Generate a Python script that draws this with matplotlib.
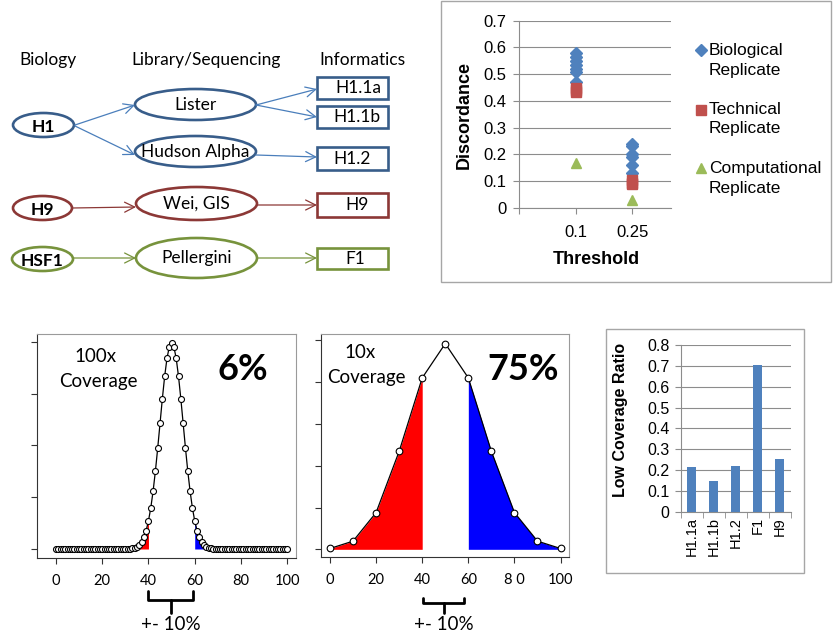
"""
Replicate discordance / coverage composite figure
"""
import matplotlib
matplotlib.use('Agg')
import matplotlib.pyplot as plt
from matplotlib.patches import Ellipse, Rectangle
import numpy as np

plt.rcParams['font.family'] = ['Lato', 'DejaVu Sans']

# Discordance vs threshold
thresholds = ['0.1', '0.25']
bio_01 = [0.58, 0.565, 0.55, 0.535, 0.52, 0.51, 0.47]
bio_025 = [0.24, 0.23, 0.20, 0.19, 0.16, 0.13]
tech_01 = [0.45, 0.44, 0.435]
tech_025 = [0.105, 0.095, 0.09]
comp_01 = [0.17]
comp_025 = [0.03]

# Low coverage ratio per sample
samples = ['H1.1a', 'H1.1b', 'H1.2', 'F1', 'H9']
low_cov = [0.214, 0.149, 0.221, 0.704, 0.254]

# Coverage distributions (100x: one point per percent, 10x: one per 10%)
cov100_y = [
    0.0, 0.0, 0.0, 0.0, 0.0, 0.0, 0.0, 0.0, 0.0, 0.0,
    0.0, 0.0, 0.0, 0.0, 0.0, 0.0, 0.0, 0.0, 0.0, 0.0,
    0.0, 0.0, 0.0, 0.0, 0.0, 0.0, 0.0, 0.0, 0.0, 0.0,
    0.00002, 0.00005, 0.00011, 0.00023, 0.00046, 0.00086, 0.00156, 0.00270, 0.00447, 0.00711,
    0.01084, 0.01587, 0.02229, 0.03007, 0.03895, 0.04847, 0.05796, 0.06659, 0.07353, 0.07803,
    0.07959,
    0.07803, 0.07353, 0.06659, 0.05796, 0.04847, 0.03895, 0.03007, 0.02229, 0.01587, 0.01084,
    0.00711, 0.00447, 0.00270, 0.00156, 0.00086, 0.00046, 0.00023, 0.00011, 0.00005, 0.00002,
    0.0, 0.0, 0.0, 0.0, 0.0, 0.0, 0.0, 0.0, 0.0, 0.0,
    0.0, 0.0, 0.0, 0.0, 0.0, 0.0, 0.0, 0.0, 0.0, 0.0,
    0.0, 0.0, 0.0, 0.0, 0.0, 0.0, 0.0, 0.0, 0.0, 0.0,
]
cov100_x = np.arange(len(cov100_y))
cov10_x = [0, 10, 20, 30, 40, 50, 60, 70, 80, 90, 100]
cov10_y = [0.00098, 0.00977, 0.04395, 0.11719, 0.20508, 0.24609,
           0.20508, 0.11719, 0.04395, 0.00977, 0.00098]

W, H = 833, 635
ARIAL = ['Liberation Sans', 'DejaVu Sans']
BLUE, RED, GREEN = '#4F81BD', '#C0504D', '#9BBB59'
GRID = '#8c8c8c'

fig = plt.figure(figsize=(W / 100, H / 100), dpi=100)


def px_axes(l, t, r, b):
    return fig.add_axes([l / W, 1 - b / H, (r - l) / W, (b - t) / H])


# background axes in pixel coordinates for diagram, frames and braces
bg = fig.add_axes([0, 0, 1, 1])
bg.set_xlim(0, W)
bg.set_ylim(H, 0)
bg.axis('off')

# ---- workflow diagram ----
for txt, x in [('Biology', 48), ('Library/Sequencing', 206), ('Informatics', 362)]:
    bg.text(x, 60, txt, ha='center', va='center', fontsize=12.5)

dk_blue, lt_blue = '#385D8A', '#4A7EBB'
dk_red, dk_green = '#8C3836', '#77933C'

ellipses = [
    ('H1', 43.5, 125, 61, 24, dk_blue, True),
    ('H9', 42.5, 208, 59, 24, dk_red, True),
    ('HSF1', 42.5, 259, 61, 24, dk_green, True),
    ('Lister', 195.5, 104.5, 121, 31, dk_blue, False),
    ('Hudson Alpha', 195.5, 151.5, 121, 31, dk_blue, False),
    ('Wei, GIS', 196.5, 203.5, 121, 33, dk_red, False),
    ('Pellergini', 196.5, 258, 121, 40, dk_green, False),
]
for txt, cx, cy, w, h, col, bold in ellipses:
    bg.add_patch(Ellipse((cx, cy), w, h, fill=False, edgecolor=col, lw=1.9))
    bg.text(cx, cy + (2 if bold else 0), txt, ha='center', va='center', fontsize=12.5,
            fontweight='bold' if bold else 'normal')

boxes = [
    ('H1.1a', 77, 99, 358, dk_blue),
    ('H1.1b', 106, 128, 356.5, dk_blue),
    ('H1.2', 147, 170, 352, dk_blue),
    ('H9', 193, 217, 357, dk_red),
    ('F1', 248, 269, 355, dk_green),
]
for txt, t, b, tx, col in boxes:
    bg.add_patch(Rectangle((317, t), 71, b - t, fill=False, edgecolor=col, lw=1.9))
    bg.text(tx, (t + b) / 2, txt, ha='center', va='center', fontsize=12.5)

arrows = [
    ((75, 125), (135, 105), lt_blue),
    ((75, 126), (135, 155), lt_blue),
    ((256, 105), (317, 89), lt_blue),
    ((256, 105), (317, 117), lt_blue),
    ((256, 155), (317, 157), lt_blue),
    ((72, 208), (136, 207), dk_red),
    ((257, 205), (317, 205), dk_red),
    ((73, 258), (136, 258), dk_green),
    ((257, 258), (317, 258), dk_green),
]
for start, end, col in arrows:
    bg.annotate('', xy=end, xytext=start,
                arrowprops=dict(arrowstyle='->,head_length=0.6,head_width=0.3',
                                color=col, lw=0.9, shrinkA=0, shrinkB=0,
                                mutation_scale=12))

# ---- discordance chart ----
bg.add_patch(Rectangle((441, 1), 390, 281, fill=False, edgecolor='#a6a6a6', lw=1))
ax1 = px_axes(519, 20.7, 671, 208)
pos = {thr: i + 1 for i, thr in enumerate(thresholds)}
for vals, thr in [(bio_01, '0.1'), (bio_025, '0.25')]:
    ax1.plot([pos[thr]] * len(vals), vals, 'D', color=BLUE, ms=6, zorder=3)
for vals, thr in [(tech_01, '0.1'), (tech_025, '0.25')]:
    ax1.plot([pos[thr]] * len(vals), vals, 's', color=RED, ms=7, zorder=3)
for vals, thr in [(comp_01, '0.1'), (comp_025, '0.25')]:
    ax1.plot([pos[thr]] * len(vals), vals, '^', color=GREEN, ms=7.5, zorder=3)
ax1.set_xlim(0, 2.68)
ax1.set_ylim(0, 0.7)
ax1.set_yticks(np.arange(0, 0.71, 0.1))
ax1.set_yticklabels(['0', '0.1', '0.2', '0.3', '0.4', '0.5', '0.6', '0.7'],
                    family=ARIAL, fontsize=12)
ax1.set_xticks([0] + [pos[t] for t in thresholds])
ax1.set_xticklabels([''] + thresholds, family=ARIAL, fontsize=12)
ax1.grid(axis='y', color=GRID, lw=0.8)
ax1.set_axisbelow(True)
for s in ['top', 'right']:
    ax1.spines[s].set_visible(False)
for s in ['left', 'bottom']:
    ax1.spines[s].set_color(GRID)
ax1.tick_params(axis='both', length=4, color=GRID, direction='out')
ax1.tick_params(axis='x', pad=8)
ax1.tick_params(axis='y', pad=5)
bg.text(464, 115, 'Discordance', rotation=90, ha='center', va='center',
        family=ARIAL, fontweight='bold', fontsize=13)
bg.text(596.7, 260, 'Threshold', ha='center', va='center',
        family=ARIAL, fontweight='bold', fontsize=13)

legend_items = [('D', BLUE, 6, 50, 70, 'Biological'),
                ('s', RED, 7, 110, 129, 'Technical'),
                ('^', GREEN, 7.5, 168, 188, 'Computational')]
for mk, col, ms, y1, y2, label in legend_items:
    bg.plot([701], [y1], mk, color=col, ms=ms)
    bg.text(709, y1, label, ha='left', va='center', family=ARIAL, fontsize=12.5)
    bg.text(709, y2, 'Replicate', ha='left', va='center', family=ARIAL, fontsize=12.5)


# ---- coverage distributions ----
def draw_dist(box, x, y, xlim, ylim, yticks, ms, xlabels):
    ax = px_axes(*box)
    ax.patch.set_alpha(0)
    x = np.asarray(x)
    y = np.asarray(y)
    left = x <= 40
    right = x >= 60
    ax.fill_between(x[left], y[left], 0, color='#ff0000', lw=0)
    ax.fill_between(x[right], y[right], 0, color='#0000ff', lw=0)
    ax.plot(x, y, '-', color='black', lw=0.9, marker='o', ms=ms,
            mfc='white', mec='black', mew=0.8, zorder=3)
    ax.set_xlim(*xlim)
    ax.set_ylim(*ylim)
    ax.set_yticks(yticks)
    ax.set_yticklabels([])
    ax.set_xticks([0, 20, 40, 60, 80, 100])
    ax.set_xticklabels(xlabels, fontsize=10.5)
    ax.tick_params(length=4, width=0.8, color='#333333')
    ax.tick_params(axis='x', pad=8)
    for s in ['left', 'bottom']:
        ax.spines[s].set_color('#333333')
    for s in ['top', 'right']:
        ax.spines[s].set_color('#9a9a9a')
    return ax


draw_dist((37, 334, 296, 557.7), cov100_x, cov100_y, (-8.2, 103.8), (-0.00336, 0.08298),
          [0, 0.02, 0.04, 0.06, 0.08], 4.3, ['0', '20', '40', '60', '80', '100'])
draw_dist((321, 334, 569.3, 556.7), cov10_x, cov10_y, (-3.9, 103.8), (-0.00884, 0.2576),
          [0, 0.05, 0.10, 0.15, 0.20, 0.25], 4.8, ['0', '20', '40', '60', '8 0', '100'])

# annotations go on a transparent overlay so they sit above the plots
top = fig.add_axes([0, 0, 1, 1])
top.set_xlim(0, W)
top.set_ylim(H, 0)
top.axis('off')
top.text(95.7, 357, '100x', ha='center', va='center', fontsize=13.5)
top.text(98, 382, 'Coverage', ha='center', va='center', fontsize=13.5)
top.text(243, 370, '6%', ha='center', va='center', fontsize=26, fontweight='bold')
top.text(360, 353, '10x', ha='center', va='center', fontsize=13.5)
top.text(366.7, 378, 'Coverage', ha='center', va='center', fontsize=13.5)
top.text(523, 369, '75%', ha='center', va='center', fontsize=26, fontweight='bold')


def brace(l, r, t, mid, tip):
    c = (l + r) / 2
    kw = dict(color='black', lw=2, solid_capstyle='round', solid_joinstyle='round')
    top.plot([l, l, r, r], [t, mid, mid, t], **kw)
    top.plot([c, c], [mid, tip], **kw)
    top.text(c, 625, '+- 10%', ha='center', va='center', fontsize=13.5)


brace(148.5, 192.7, 590.5, 599.5, 613)
brace(423.3, 464, 597.5, 603, 613)

# ---- low coverage ratio bars ----
bg.add_patch(Rectangle((606, 329.3), 198, 244, fill=False, edgecolor='#a6a6a6', lw=1))
ax5 = px_axes(680.7, 345, 790.7, 511.7)
xb = np.arange(len(samples))
ax5.bar(xb, low_cov, width=0.42, color=BLUE, zorder=3)
ax5.set_xlim(-0.5, len(samples) - 0.5)
ax5.set_ylim(0, 0.8)
ax5.set_yticks(np.arange(0, 0.81, 0.1))
ax5.set_yticklabels(['0', '0.1', '0.2', '0.3', '0.4', '0.5', '0.6', '0.7', '0.8'],
                    family=ARIAL, fontsize=11.5)
ax5.set_xticks(xb)
ax5.set_xticklabels(samples, rotation=90, family=ARIAL, fontsize=10.5)
ax5.set_xticks(np.arange(-0.5, len(samples)), minor=True)
ax5.tick_params(axis='x', which='major', length=0, pad=4)
ax5.tick_params(axis='x', which='minor', length=4, color=GRID)
ax5.tick_params(axis='y', length=4, color=GRID, pad=4)
ax5.grid(axis='y', color=GRID, lw=0.8)
ax5.set_axisbelow(True)
for s in ['top', 'right']:
    ax5.spines[s].set_visible(False)
for s in ['left', 'bottom']:
    ax5.spines[s].set_color(GRID)
bg.text(620.7, 420, 'Low Coverage Ratio', rotation=90, ha='center', va='center',
        family=ARIAL, fontweight='bold', fontsize=11.5)

fig.savefig('out.png', dpi=100)
